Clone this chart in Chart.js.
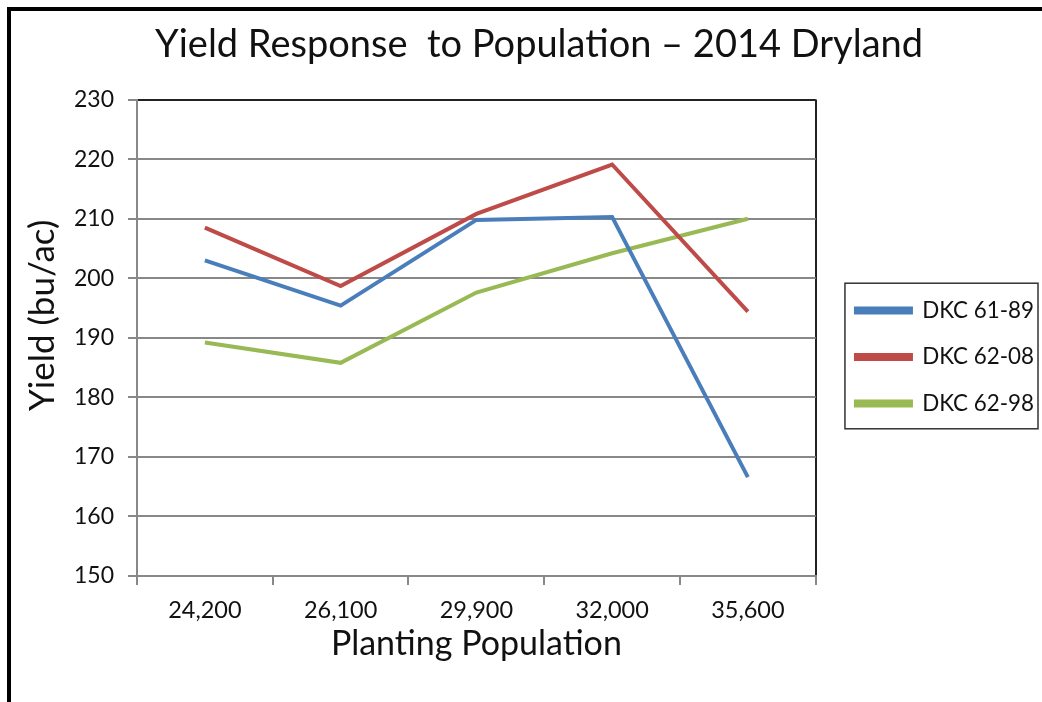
<!DOCTYPE html>
<html>
<head>
<meta charset="utf-8">
<script src="https://cdn.jsdelivr.net/npm/chart.js@4.4.0/dist/chart.umd.min.js"></script>
<style>
  html, body { margin: 0; padding: 0; background: #fff; overflow: hidden; }
  #wrap { position: relative; width: 1042px; height: 702px; }
  #frame { position: absolute; left: 7px; top: 7px; width: 1100px; height: 800px; border: 4px solid #000; box-sizing: border-box; pointer-events: none; }
  canvas { position: absolute; left: 0; top: 0; }
</style>
</head>
<body>
<div id="wrap">
  <canvas id="chart" width="1042" height="702"></canvas>
  <div id="frame"></div>
</div>
<script>
const populations = ['24,200', '26,100', '29,900', '32,000', '35,600'];
const dkc6189 = [203.0, 195.4, 209.8, 210.3, 166.6];
const dkc6208 = [208.5, 198.7, 210.8, 219.1, 194.4];
const dkc6298 = [189.2, 185.8, 197.6, 204.2, 210.0];
const seriesNames = ['DKC 61-89', 'DKC 62-08', 'DKC 62-98'];
const yMin = 150, yMax = 230, yStep = 10;

const FONT = 'Lato, "Noto Sans", sans-serif';

// nudges the title and legend to where the original sits, and boxes the legend
const layoutTweaks = {
  id: 'layoutTweaks',
  afterLayout(chart) {
    const t = chart.titleBlock;
    t.left += 25; t.right += 25;
    const lg = chart.legend;
    lg.left += 16; lg.right += 16;
    lg.top += 6; lg.bottom += 6;
  },
  afterDraw(chart) {
    const boxes = chart.legend.legendHitBoxes;
    if (!boxes || !boxes.length) return;
    const ctx = chart.ctx;
    const first = boxes[0], last = boxes[boxes.length - 1];
    const left = first.left - 11;
    const top = first.top - 16;
    const bottom = last.top + last.height + 14;
    ctx.save();
    ctx.strokeStyle = '#333';
    ctx.lineWidth = 1.5;
    ctx.strokeRect(left, top, 1038 - left, bottom - top);
    ctx.restore();
  }
};

const ctx = document.getElementById('chart');
new Chart(ctx, {
  type: 'line',
  data: {
    labels: populations,
    datasets: [
      { label: seriesNames[0], data: dkc6189, borderColor: '#4a7ebb', backgroundColor: '#4a7ebb' },
      { label: seriesNames[1], data: dkc6208, borderColor: '#be4b48', backgroundColor: '#be4b48' },
      { label: seriesNames[2], data: dkc6298, borderColor: '#98b954', backgroundColor: '#98b954' }
    ]
  },
  options: {
    responsive: false,
    animation: false,
    layout: { padding: { left: 0, right: 14, top: 0, bottom: 0 } },
    elements: {
      line: { borderWidth: 4, tension: 0 },
      point: { radius: 0, hoverRadius: 0 }
    },
    plugins: {
      title: {
        display: true,
        text: 'Yield Response  to Population \u2013 2014 Dryland',
        color: '#111',
        font: { family: FONT, size: 38, weight: 'normal' },
        padding: { top: 22, bottom: 32 }
      },
      legend: {
        position: 'right',
        labels: {
          color: '#111',
          font: { family: FONT, size: 22.4 },
          boxWidth: 55,
          boxHeight: 4,
          padding: 24.2
        }
      },
      tooltip: { enabled: false }
    },
    scales: {
      x: {
        type: 'category',
        offset: true,
        grid: {
          offset: true,
          drawOnChartArea: true,
          color: c => c.type === 'tick' ? 'rgba(0,0,0,0)' : '#222',
          tickColor: '#888',
          tickLength: 9,
          lineWidth: 2
        },
        border: { color: '#888', width: 2 },
        ticks: { color: '#111', font: { family: FONT, size: 23.5 }, padding: 11 },
        title: {
          display: true,
          text: 'Planting Population',
          color: '#111',
          font: { family: FONT, size: 34 },
          padding: { top: 0, bottom: 38 }
        },
        afterFit(scale) { scale.height = 126; }
      },
      y: {
        min: yMin,
        max: yMax,
        ticks: { stepSize: yStep, color: '#111', font: { family: FONT, size: 23 }, padding: 14 },
        grid: {
          color: c => c.tick && c.tick.value === yMax ? '#222' : '#888',
          tickColor: '#888',
          tickLength: 9,
          lineWidth: 2
        },
        border: { color: '#888', width: 2 },
        title: {
          display: true,
          text: '     Yield (bu/ac)',
          color: '#111',
          font: { family: FONT, size: 35 },
          padding: { top: 22, bottom: 0 }
        },
        afterFit(scale) { scale.width = 137; }
      }
    }
  },
  plugins: [layoutTweaks]
});
</script>
</body>
</html>
